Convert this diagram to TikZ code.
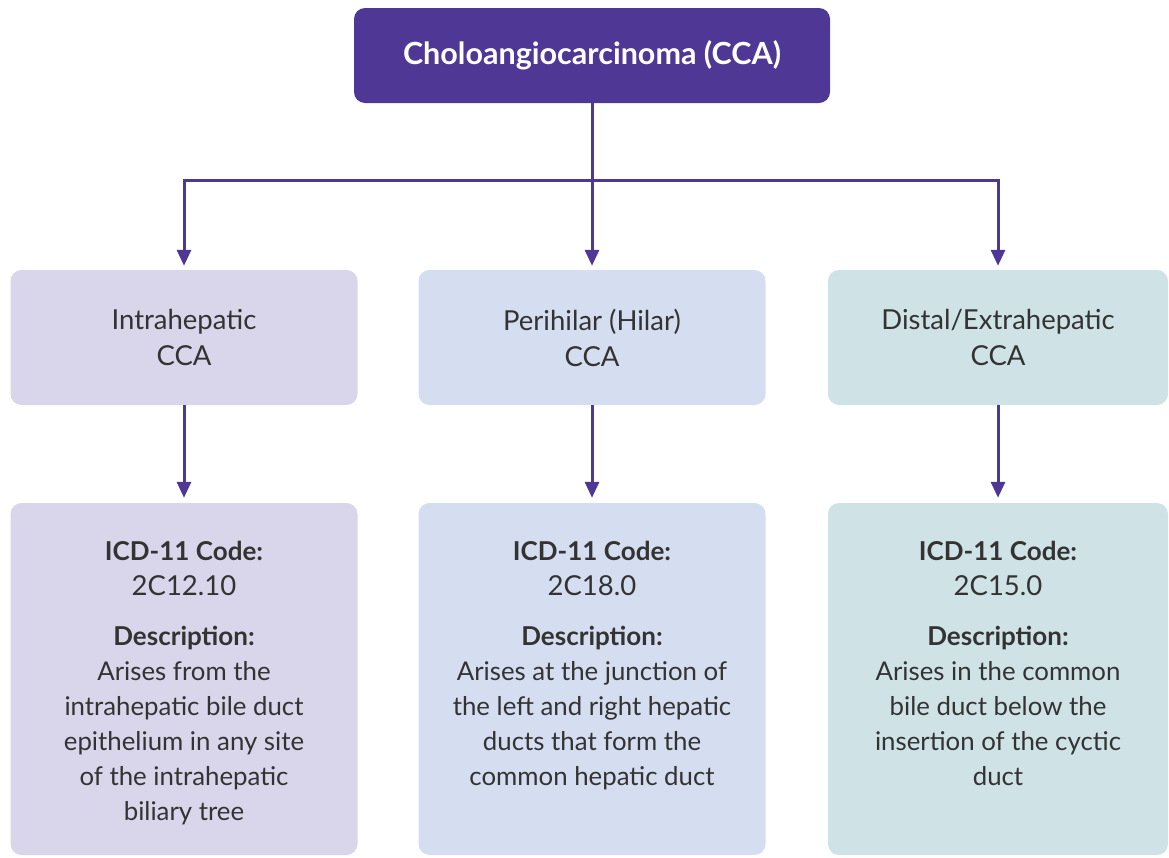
\documentclass[tikz,border=0pt]{standalone}
\usepackage{fontspec}
\setmainfont{Lato}
\usetikzlibrary{positioning, arrows.meta}
\definecolor{ccapurple}{HTML}{4F3796}
\definecolor{intrafill}{HTML}{D9D5EA}
\definecolor{perifill}{HTML}{D5DEF0}
\definecolor{distfill}{HTML}{CFE2E6}
\definecolor{bodytext}{HTML}{333333}
\newcommand{\hdr}[1]{{\fontsize{26}{35}\selectfont\bfseries #1}}
\newcommand{\code}[1]{{\fontsize{27.5}{35}\selectfont #1}}

\begin{document}
\begin{tikzpicture}[x=1pt, y=1pt, on grid,
    headbox/.style={rectangle, rounded corners=11pt, fill=ccapurple, text=white,
      minimum width=476pt, minimum height=95pt, font=\fontsize{30.5}{34}\selectfont\bfseries},
    typebox/.style={rectangle, rounded corners=11pt, minimum width=347pt, minimum height=135pt,
      text=bodytext, align=center, font=\fontsize{27.5}{36}\selectfont},
    infobox/.style={rectangle, rounded corners=11pt, minimum width=347pt, minimum height=352pt},
    infotext/.style={anchor=north, inner sep=0pt, text=bodytext, align=center,
      font=\fontsize{25.8}{35}\selectfont},
    link/.style={draw=ccapurple, line width=3pt, -{Triangle[length=16pt, width=14pt]}}]
    \useasboundingbox (0,0) rectangle (1169,-857);

    \node[headbox] (cca) at (592,-55.5) {Choloangiocarcinoma (CCA)};
    \node[typebox, fill=perifill, below=282pt of cca] (peri) {Perihilar (Hilar)\\CCA};
    \node[typebox, fill=intrafill, left=408pt of peri] (intra) {Intrahepatic\\CCA};
    \node[typebox, fill=distfill, minimum width=340pt, right=406pt of peri] (dist) {Distal/Extrahepatic\\CCA};

    \node[infobox, fill=intrafill, below=341.5pt of intra] (intrainfo) {};
    \node[infobox, fill=perifill, below=341.5pt of peri] (periinfo) {};
    \node[infobox, fill=distfill, minimum width=340pt, below=341.5pt of dist] (distinfo) {};

    % texts of the lower boxes
    \node[infotext] (intratext) at ([yshift=-38pt]intrainfo.north)
      {\hdr{ICD-11 Code:}\\ \code{2C12.10}\\[15pt] \hdr{Description:}\\
       Arises from the\\ intrahepatic bile duct\\ epithelium in any site\\
       of the intrahepatic\\ biliary tree};
    \node[infotext] (peritext) at ([yshift=-38pt]periinfo.north)
      {\hdr{ICD-11 Code:}\\ \code{2C18.0}\\[15pt] \hdr{Description:}\\
       Arises at the junction of\\ the left and right hepatic\\ ducts that form the\\
       common hepatic duct};
    \node[infotext] (disttext) at ([yshift=-38pt]distinfo.north)
      {\hdr{ICD-11 Code:}\\ \code{2C15.0}\\[15pt] \hdr{Description:}\\
       Arises in the common\\ bile duct below the\\ insertion of the cyctic\\ duct};

    % connectors
    \coordinate (split) at ([yshift=-77pt]cca.south);
    \draw[ccapurple, line width=3pt] (cca.south) -- (split);
    \draw[link, shorten >=4pt] (split) -| (intra.north);
    \draw[link, shorten >=4pt] (split) -- (peri.north);
    \draw[link, shorten >=4pt] (split) -| (dist.north);
    \draw[link, shorten >=5pt] (intra) -- (intrainfo);
    \draw[link, shorten >=5pt] (peri) -- (periinfo);
    \draw[link, shorten >=5pt] (dist) -- (distinfo);
\end{tikzpicture}
\end{document}
